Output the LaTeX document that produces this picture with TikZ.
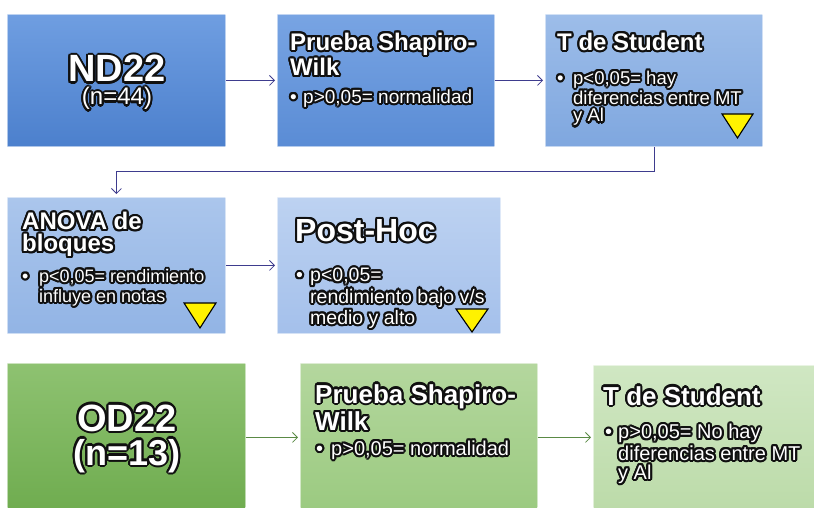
\documentclass[tikz,border=0pt]{standalone}
\usepackage{fontspec}
\setmainfont{Liberation Sans}
\usepackage[copies]{contour}
\contourlength{2.1pt}
\contournumber{16}
\usetikzlibrary{arrows.meta}
\definecolor{arrblue}{HTML}{3E3C8E}
\definecolor{arrgreen}{HTML}{5A8A45}
\definecolor{glow}{HTML}{101010}
\definecolor{ndT}{HTML}{6F9EE1}\definecolor{ndB}{HTML}{4C80CD}
\definecolor{swaT}{HTML}{78A4E3}\definecolor{swaB}{HTML}{5A8CD5}
\definecolor{tsaT}{HTML}{9DBDE9}\definecolor{tsaB}{HTML}{7FA7DF}
\definecolor{anT}{HTML}{ABC6EC}\definecolor{anB}{HTML}{92B4E5}
\definecolor{phT}{HTML}{BDD2F1}\definecolor{phB}{HTML}{A4C0EB}
\definecolor{odT}{HTML}{8EC271}\definecolor{odB}{HTML}{6FAC4F}
\definecolor{swbT}{HTML}{B4D79E}\definecolor{swbB}{HTML}{9BCA80}
\definecolor{tsbT}{HTML}{D0E7C3}\definecolor{tsbB}{HTML}{BCDBA9}
\newcommand{\gl}[1]{\contour{glow}{#1}}
\newcommand{\bl}[1]{\makebox[#1][l]{\contour{glow}{•}}}
\begin{document}
\begin{tikzpicture}[x=1pt,y=-1pt,
  box/.style={anchor=north west, inner sep=0pt, line width=0.8pt, draw=white, draw opacity=0.55},
  ttl/.style={anchor=north west, inner sep=0pt, align=left, text=white, font=\bfseries},
  blt/.style={anchor=north west, inner sep=0pt, align=left, text=white},
  big/.style={anchor=base, inner sep=0pt, text=white},
  arrb/.style={draw=arrblue, line width=0.8pt, -{Straight Barb[length=5pt,width=10pt]}, shorten >=2pt},
  arrg/.style={draw=arrgreen, line width=0.8pt, -{Straight Barb[length=5pt,width=10pt]}, shorten >=2pt},
  tri/.style={fill=yellow, draw=black, line width=1.1pt, line join=miter}]
\clip (0,0) rectangle (814,508);
\fill[white] (0,0) rectangle (814,508);
% boxes
\node[box, minimum width=218pt, minimum height=132pt, top color=ndT, bottom color=ndB] (nd) at (7,14) {};
\node[box, minimum width=217pt, minimum height=132pt, top color=swaT, bottom color=swaB] (sw1) at (277,14) {};
\node[box, minimum width=217pt, minimum height=132pt, top color=tsaT, bottom color=tsaB] (ts1) at (545,14) {};
\node[box, minimum width=218pt, minimum height=136pt, top color=anT, bottom color=anB] (an) at (7,197) {};
\node[box, minimum width=223pt, minimum height=136pt, top color=phT, bottom color=phB] (ph) at (277,197) {};
\node[box, minimum width=238pt, minimum height=148pt, top color=odT, bottom color=odB] (od) at (7,363) {};
\node[box, minimum width=237pt, minimum height=148pt, top color=swbT, bottom color=swbB] (sw2) at (300,363) {};
\node[box, minimum width=230pt, minimum height=144pt, top color=tsbT, bottom color=tsbB] (ts2) at (593,365) {};
% connectors
\draw[arrb] (nd.east) -- (sw1.west);
\draw[arrb] (sw1.east) -- (ts1.west);
\draw[arrb, shorten >=3pt] (ts1.south) -- ++(0,25) -| (an.north);
\draw[arrb] (an.east) -- (ph.west);
\draw[arrg] (od.east) -- (sw2.west);
\draw[arrg] (sw2.east) -- (ts2.west);
% texts row 1
\node[big, font=\bfseries\fontsize{38}{40}\selectfont] (ndt) at (117,82) {\gl{ND22}};
\node[big, font=\fontsize{24}{26}\selectfont] (ndn) at (117,105) {\gl{(n=44)}};
\node[ttl, font=\bfseries\fontsize{24}{23}\selectfont] (sw1t) at (290,32.7) {\gl{Prueba Shapiro-}\\\gl{Wilk}};
\node[blt, font=\fontsize{19}{19}\selectfont] (sw1b) at (290,89.3) {\bl{13pt}\gl{p>0,05= normalidad}};
\node[ttl, font=\bfseries\fontsize{24}{23}\selectfont] (ts1t) at (557,32.7) {\gl{T de Student}};
\node[blt, font=\fontsize{18.5}{17.5}\selectfont] (ts1b) at (557,70.5) {\bl{16pt}\gl{p<0,05= hay}\\\hspace*{16pt}\gl{diferencias entre MT}\\\hspace*{16pt}\gl{y Al}};
% row 2
\node[ttl, font=\bfseries\fontsize{24}{22}\selectfont] (ant) at (22,212) {\gl{ANOVA de}\\\gl{bloques}};
\node[blt, font=\fontsize{18}{20}\selectfont] (anb) at (22,269) {\bl{17pt}\gl{p<0,05= rendimiento}\\\hspace*{17pt}\gl{influye en notas}};
\node[ttl, font=\bfseries\fontsize{32}{32}\selectfont] (pht) at (295,219) {\gl{Post-Hoc}};
\node[blt, font=\fontsize{19.5}{19}\selectfont] (phb) at (296,268) {\bl{14pt}\gl{p<0,05=}\\\hspace*{14pt}\gl{rendimiento bajo v/s}\\\hspace*{14pt}\gl{medio y alto}};
% row 3
\node[big, font=\bfseries\fontsize{38}{40}\selectfont] (odt) at (127,431) {\gl{OD22}};
\node[big, font=\bfseries\fontsize{36}{40}\selectfont] (odn) at (127,465) {\gl{(n=13)}};
\node[ttl, font=\bfseries\fontsize{26}{22}\selectfont] (sw2t) at (315,384) {\gl{Prueba Shapiro-}\\\gl{Wilk}};
\node[blt, font=\fontsize{20}{20}\selectfont] (sw2b) at (316,440.5) {\bl{15pt}\gl{p>0,05= normalidad}};
\node[ttl, font=\bfseries\fontsize{26}{26}\selectfont] (ts2t) at (603,386) {\gl{T de Student}};
\node[blt, font=\fontsize{20}{19}\selectfont] (ts2b) at (605,424) {\bl{13pt}\gl{p>0,05= No hay}\\\hspace*{13pt}\gl{diferencias entre MT}\\\hspace*{13pt}\gl{y Al}};
% yellow triangles
\draw[tri] (722,114) -- (753,114) -- (737.5,138) -- cycle;
\draw[tri] (184,303) -- (216,303) -- (200,328) -- cycle;
\draw[tri] (456,309) -- (488,309) -- (472,332) -- cycle;
\end{tikzpicture}
\end{document}
